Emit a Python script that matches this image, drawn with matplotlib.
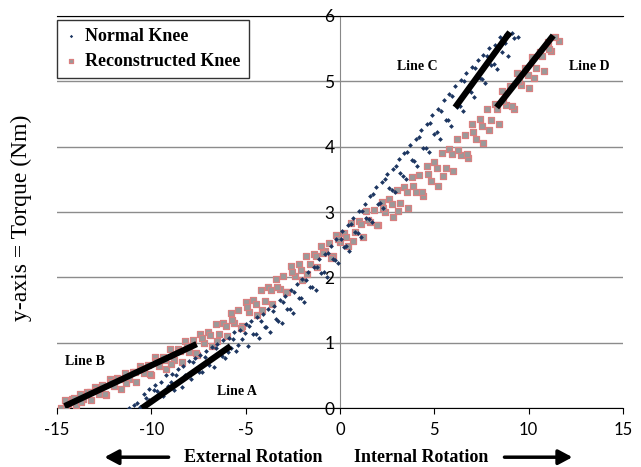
import matplotlib
matplotlib.use("Agg")
import matplotlib.pyplot as plt

plt.rcParams["axes.unicode_minus"] = False

# ===== DATA =====
# Normal knee - lower branch
normal_lo_x = [-11.2, -10.9, -10.6, -10.3, -10.0, -9.7, -9.4, -9.1, -8.8, -8.5, -8.2, -7.9, -7.6, -7.3,
               -7.0, -6.7, -6.4, -6.1, -5.8, -5.5, -5.2, -4.9, -4.6, -4.3, -4.0, -3.7, -3.4, -3.1,
               -2.8, -2.5, -2.2, -1.9, -1.6, -1.3, -1.0, -0.7, -0.4, -0.1, 0.2, 0.5, 0.8, 1.1, 1.4,
               1.7, 2.0, 2.3, 2.6, 2.9, 3.2, 3.5, 3.8, 4.1, 4.4, 4.7, 5.0, 5.3, 5.6, 5.9, 6.2, 6.5,
               6.8, 7.1, 7.4, 7.7, 8.0, 8.3, 8.6, 8.9, 9.2]
normal_lo_y = [0.00, 0.05, 0.02, 0.15, 0.10, 0.26, 0.18, 0.34, 0.28, 0.41, 0.50, 0.44, 0.62, 0.55,
               0.72, 0.63, 0.84, 0.76, 0.92, 0.88, 1.06, 0.95, 1.14, 1.08, 1.24, 1.16, 1.37, 1.30,
               1.52, 1.46, 1.69, 1.62, 1.86, 1.80, 2.06, 2.00, 2.28, 2.22, 2.46, 2.40, 2.69, 2.62,
               2.91, 2.84, 3.13, 3.06, 3.36, 3.30, 3.59, 3.50, 3.80, 3.70, 3.98, 3.92, 4.19, 4.12,
               4.41, 4.32, 4.61, 4.55, 4.85, 4.76, 5.05, 4.98, 5.25, 5.18, 5.45, 5.38, 5.66]

# Normal knee - upper branch
normal_hi_x = [-10.4, -10.1, -9.8, -9.5, -9.2, -8.9, -8.6, -8.3, -8.0, -7.7, -7.4, -7.1, -6.8, -6.5,
               -6.2, -5.9, -5.6, -5.3, -5.0, -4.7, -4.4, -4.1, -3.8, -3.5, -3.2, -2.9, -2.6, -2.3,
               -2.0, -1.7, -1.4, -1.1, -0.8, -0.5, -0.2, 0.1, 0.4, 0.7, 1.0, 1.3, 1.6, 1.9, 2.2,
               2.5, 2.8, 3.1, 3.4, 3.7, 4.0, 4.3, 4.6, 4.9, 5.2, 5.5, 5.8, 6.1, 6.4, 6.7, 7.0, 7.3,
               7.6, 7.9, 8.2, 8.5, 8.8, 9.1]
normal_hi_y = [0.22, 0.30, 0.36, 0.40, 0.50, 0.52, 0.60, 0.64, 0.72, 0.76, 0.82, 0.87, 0.94, 0.98,
               1.04, 1.08, 1.16, 1.20, 1.28, 1.34, 1.40, 1.44, 1.52, 1.57, 1.65, 1.72, 1.80, 1.90,
               1.98, 2.08, 2.16, 2.28, 2.36, 2.48, 2.58, 2.71, 2.80, 2.91, 3.02, 3.13, 3.24, 3.38,
               3.46, 3.58, 3.66, 3.81, 3.90, 4.03, 4.12, 4.25, 4.34, 4.48, 4.57, 4.71, 4.80, 4.93,
               5.02, 5.13, 5.22, 5.33, 5.40, 5.51, 5.56, 5.68, 5.72, 5.74]

# Normal knee - scattered points between branches
normal_mid_x = [-10.75, -10.15, -9.85, -9.55, -8.95, -8.72, -8.38, -7.82, -7.48, -7.15, -6.92, -6.58,
                -6.27, -5.96, -5.68, -5.42, -5.05, -4.83, -4.47, -4.18, -3.93, -3.58, -3.27, -3.04,
                -2.66, -2.43, -2.08, -1.83, -1.47, -1.22, -0.86, -0.63, -0.27, 0.04, 0.33, 0.57,
                0.94, 1.18, 1.53, 1.76, 2.14, 2.36, 2.73, 2.97, 3.34, 3.56, 3.93, 4.17, 4.55, 4.76,
                5.14, 5.36, 5.74, 5.95, 6.34, 6.55, 6.94, 7.16, 7.53, 7.77, 8.14, 8.36, 8.73, 8.95,
                9.42]
normal_mid_y = [0.08, 0.12, 0.28, 0.18, 0.40, 0.50, 0.33, 0.70, 0.56, 0.78, 0.66, 0.92, 0.80, 0.86,
                1.06, 0.96, 1.15, 1.25, 1.14, 1.34, 1.24, 1.48, 1.34, 1.62, 1.52, 1.78, 1.68, 1.96,
                1.86, 2.16, 2.08, 2.38, 2.26, 2.58, 2.48, 2.82, 2.68, 3.02, 2.90, 3.28, 3.14, 3.50,
                3.34, 3.70, 3.55, 3.92, 3.78, 4.14, 3.98, 4.36, 4.22, 4.55, 4.40, 4.78, 4.62, 5.00,
                4.84, 5.20, 5.04, 5.38, 5.26, 5.52, 5.58, 5.70, 5.68]

# Reconstructed knee - lower branch
recon_lo_x = [-14.8, -14.4, -14.0, -13.6, -13.2, -12.8, -12.4, -12.0, -11.6, -11.2, -10.8, -10.4,
              -10.0, -9.6, -9.2, -8.8, -8.4, -8.0, -7.6, -7.2, -6.8, -6.4, -6.0, -5.6, -5.2, -4.8,
              -4.4, -4.0, -3.6, -3.2, -2.8, -2.4, -2.0, -1.6, -1.2, -0.8, -0.4, 0.0, 0.4, 0.8, 1.2,
              1.6, 2.0, 2.4, 2.8, 3.2, 3.6, 4.0, 4.4, 4.8, 5.2, 5.6, 6.0, 6.4, 6.8, 7.2, 7.6, 8.0,
              8.4, 8.8, 9.2, 9.6, 10.0, 10.4, 10.8, 11.2, 11.6]
recon_lo_y = [0.00, 0.07, 0.05, 0.14, 0.12, 0.22, 0.20, 0.34, 0.30, 0.44, 0.40, 0.54, 0.50, 0.64,
              0.60, 0.74, 0.70, 0.86, 0.82, 0.99, 0.95, 1.14, 1.10, 1.30, 1.26, 1.47, 1.42, 1.64,
              1.60, 1.82, 1.78, 2.02, 1.96, 2.20, 2.16, 2.40, 2.33, 2.54, 2.48, 2.70, 2.62, 2.84,
              2.80, 3.00, 2.92, 3.14, 3.06, 3.30, 3.24, 3.47, 3.40, 3.67, 3.62, 3.87, 3.82, 4.12,
              4.05, 4.40, 4.34, 4.64, 4.58, 4.94, 4.90, 5.20, 5.15, 5.46, 5.62]

# Reconstructed knee - upper branch
recon_hi_x = [-14.6, -14.2, -13.8, -13.4, -13.0, -12.6, -12.2, -11.8, -11.4, -11.0, -10.6, -10.2,
              -9.8, -9.4, -9.0, -8.6, -8.2, -7.8, -7.4, -7.0, -6.6, -6.2, -5.8, -5.4, -5.0, -4.6,
              -4.2, -3.8, -3.4, -3.0, -2.6, -2.2, -1.8, -1.4, -1.0, -0.6, -0.2, 0.2, 0.6, 1.0, 1.4,
              1.8, 2.2, 2.6, 3.0, 3.4, 3.8, 4.2, 4.6, 5.0, 5.4, 5.8, 6.2, 6.6, 7.0, 7.4, 7.8, 8.2,
              8.6, 9.0, 9.4, 9.8, 10.2, 10.6, 11.0, 11.4]
recon_hi_y = [0.12, 0.14, 0.22, 0.25, 0.32, 0.35, 0.44, 0.46, 0.54, 0.56, 0.64, 0.66, 0.78, 0.78,
              0.90, 0.90, 1.02, 1.04, 1.14, 1.16, 1.28, 1.30, 1.45, 1.50, 1.63, 1.66, 1.81, 1.86,
              1.98, 2.02, 2.18, 2.20, 2.33, 2.36, 2.48, 2.52, 2.65, 2.68, 2.83, 2.86, 3.01, 3.03,
              3.15, 3.20, 3.33, 3.38, 3.53, 3.56, 3.71, 3.76, 3.91, 3.96, 4.11, 4.18, 4.35, 4.42,
              4.58, 4.65, 4.85, 4.92, 5.12, 5.20, 5.37, 5.45, 5.60, 5.68]

# Reconstructed knee - scattered points between branches
recon_mid_x = [-14.52, -14.08, -13.73, -13.27, -12.93, -12.46, -12.14, -11.68, -11.33, -10.87,
               -10.53, -10.06, -9.73, -9.26, -8.94, -8.47, -8.13, -7.66, -7.34, -6.87, -6.54,
               -6.07, -5.74, -5.26, -4.93, -4.47, -4.13, -3.66, -3.34, -2.86, -2.53, -2.07, -1.74,
               -1.27, -0.93, -0.46, -0.13, 0.34, 0.66, 1.13, 1.47, 1.94, 2.26, 2.73, 3.07, 3.54,
               3.86, 4.33, 4.67, 5.14, 5.46, 5.93, 6.27, 6.74, 7.06, 7.53, 7.87, 8.34, 8.66, 9.13,
               9.47, 9.94, 10.26, 10.73, 11.07]
recon_mid_y = [0.02, 0.16, 0.10, 0.24, 0.28, 0.22, 0.40, 0.44, 0.38, 0.55, 0.60, 0.52, 0.72, 0.74,
               0.68, 0.88, 0.95, 0.85, 1.08, 1.12, 1.02, 1.26, 1.35, 1.22, 1.55, 1.60, 1.50, 1.80,
               1.85, 1.78, 2.08, 2.12, 2.05, 2.32, 2.38, 2.30, 2.58, 2.62, 2.55, 2.82, 2.88, 2.80,
               3.06, 3.12, 3.02, 3.30, 3.40, 3.30, 3.58, 3.68, 3.55, 3.88, 3.95, 3.88, 4.22, 4.32,
               4.25, 4.58, 4.70, 4.62, 5.00, 5.10, 5.05, 5.38, 5.50]

# fitted lines (start, end)
line_names = ["Line A", "Line B", "Line C", "Line D"]
line_x = [(-10.5, -5.8), (-14.6, -7.6), (6.1, 9.0), (8.3, 11.3)]
line_y = [(0.0, 0.95), (0.03, 0.98), (4.6, 5.75), (4.6, 5.7)]
label_pos = [(-5.45, 0.25), (-13.5, 0.72), (4.1, 5.22), (13.2, 5.22)]

serif = ["Liberation Serif", "DejaVu Serif"]
sans = ["Lato", "DejaVu Sans"]

fig = plt.figure(figsize=(6.41, 4.67), dpi=100)
ax = fig.add_axes([0.089, 0.126, 0.883, 0.840])

# ===== SCATTER =====
ax.scatter(recon_lo_x + recon_hi_x + recon_mid_x, recon_lo_y + recon_hi_y + recon_mid_y,
           marker="s", s=16, facecolor="#9a9a9a", edgecolor="#d98080", linewidth=0.9,
           zorder=3, label="Reconstructed Knee")
ax.scatter(normal_lo_x + normal_hi_x + normal_mid_x, normal_lo_y + normal_hi_y + normal_mid_y,
           marker="D", s=6, color="#1c3560", linewidth=0, zorder=4, label="Normal Knee")

# ===== LINES =====
for name, lx, ly, (tx, ty) in zip(line_names, line_x, line_y, label_pos):
    ax.plot(lx, ly, color="black", linewidth=4.5, solid_capstyle="butt", zorder=5)
    ax.text(tx, ty, name, family=serif, fontweight="bold", fontsize=10,
            ha="center", va="center")

# ===== AXES =====
ax.set_xlim(-15, 15)
ax.set_ylim(0, 6)
ax.set_xticks(range(-15, 16, 5))
ax.set_yticks(range(0, 7))
ax.spines["left"].set_position(("data", 0))
ax.spines["left"].set_color("#888888")
ax.spines["right"].set_visible(False)
ax.spines["top"].set_color("black")
ax.spines["bottom"].set_color("black")
ax.yaxis.grid(True, color="#8c8c8c", linewidth=1)
ax.set_axisbelow(True)
ax.tick_params(axis="x", direction="out", length=4, labelsize=12, pad=6, color="black")
ax.tick_params(axis="y", direction="out", length=3, labelsize=12.5, pad=1, color="#888888")
for t in ax.get_xticklabels() + ax.get_yticklabels():
    t.set_family(sans)

# legend with Normal first
h, l = ax.get_legend_handles_labels()
leg = ax.legend(h[::-1], l[::-1], loc="upper left", bbox_to_anchor=(0.0, 0.99),
                borderaxespad=0.0, prop={"family": serif, "weight": "bold", "size": 13},
                frameon=True, fancybox=False, edgecolor="black", handlelength=0.6,
                handletextpad=0.5, borderpad=0.45, labelspacing=0.45, markerscale=0.7)
leg.get_frame().set_linewidth(1.0)

# ===== LABELS =====
fig.text(0.034, 0.533, "y-axis = Torque (Nm)", rotation=90, family=serif,
         fontsize=17, ha="center", va="center")
fig.text(0.395, 0.021, "External Rotation", family=serif, fontweight="bold",
         fontsize=13, ha="center", va="center")
fig.text(0.657, 0.021, "Internal Rotation", family=serif, fontweight="bold",
         fontsize=13, ha="center", va="center")
arrow_style = "-|>,head_length=0.6,head_width=0.32"
ax.annotate("", xy=(0.163, 0.021), xytext=(0.263, 0.021), xycoords="figure fraction",
            textcoords="figure fraction",
            arrowprops=dict(arrowstyle=arrow_style, lw=2.5, color="black", mutation_scale=14,
                            shrinkA=0, shrinkB=0))
ax.annotate("", xy=(0.893, 0.021), xytext=(0.787, 0.021), xycoords="figure fraction",
            textcoords="figure fraction",
            arrowprops=dict(arrowstyle=arrow_style, lw=2.5, color="black", mutation_scale=14,
                            shrinkA=0, shrinkB=0))

fig.savefig("out.png", dpi=100)
